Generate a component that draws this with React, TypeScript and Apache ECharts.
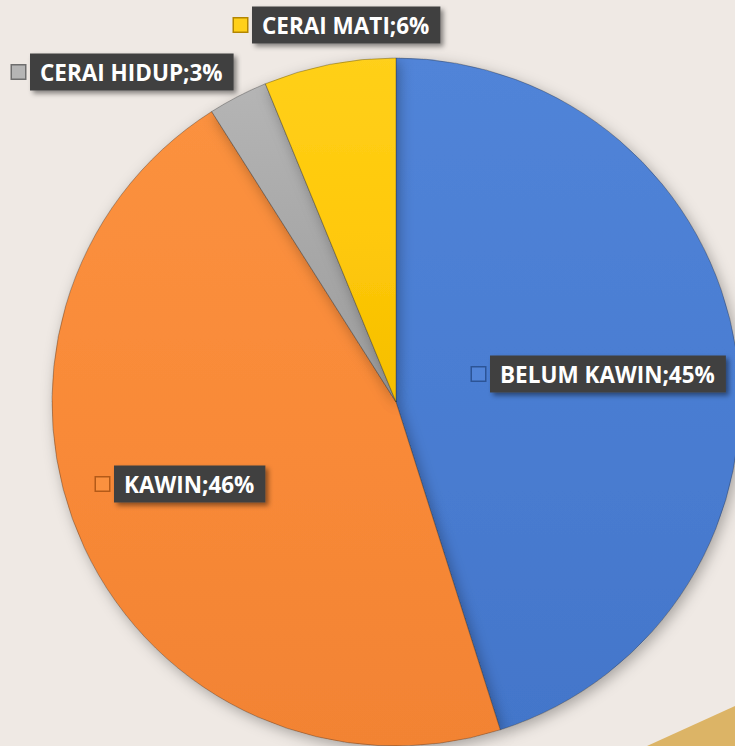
import React, { useEffect, useRef } from "react";
import * as echarts from "echarts";

const categories = ["BELUM KAWIN", "KAWIN", "CERAI HIDUP", "CERAI MATI"];
const values = [45.1, 45.9, 2.8, 6.2];
const colors = ["#4a7dd2", "#f98a38", "#a8a8a8", "#ffc90a"];
const lightColors = ["#5184d8", "#fb913f", "#b5b5b5", "#ffd01a"];
const darkColors = ["#4376ca", "#f28333", "#9c9c9c", "#f5be00"];
const keyBorders = ["#2c5496", "#b35a18", "#6e6e6e", "#b38600"];
// label anchor positions (left edge of key square, vertical middle of box)
const labelPos: [number, number][] = [
  [472, 374],
  [96, 484],
  [12, 72],
  [234, 25],
];

export default function App() {
  const ref = useRef<HTMLDivElement>(null);
  useEffect(() => {
    if (!ref.current) return;
    const chart = echarts.init(ref.current, null, { renderer: "svg" });
    const data = categories.map((name, i) => ({
      name,
      value: values[i],
      itemStyle: {
        color: new echarts.graphic.LinearGradient(0, 0, 0, 1, [
          { offset: 0, color: lightColors[i] },
          { offset: 0.5, color: colors[i] },
          { offset: 1, color: darkColors[i] },
        ]),
      },
      label: {
        rich: {
          key: {
            width: 13,
            height: 13,
            backgroundColor: lightColors[i],
            borderColor: keyBorders[i],
            borderWidth: 1.5,
          },
        },
      },
    }));
    chart.setOption({
      animation: false,
      backgroundColor: "#efe9e4",
      graphic: [
        {
          type: "polygon",
          z: -1,
          shape: { points: [[647, 746], [735, 706], [735, 746]] },
          style: { fill: "#dcb466" },
        },
      ],
      series: [
        {
          type: "pie",
          center: [396, 402],
          radius: 344,
          startAngle: 90,
          clockwise: true,
          percentPrecision: 0,
          data,
          itemStyle: {
            borderColor: "rgba(40,40,40,0.35)",
            borderWidth: 1,
            shadowBlur: 14,
            shadowColor: "rgba(0,0,0,0.3)",
            shadowOffsetX: 3,
            shadowOffsetY: 4,
          },
          emphasis: { disabled: true },
          labelLine: { show: false },
          label: {
            show: true,
            position: "inside",
            formatter: (p: any) => `{key|}{gap|}{txt|${p.name};${p.percent}%}`,
            rich: {
              gap: { width: 5, height: 15 },
              txt: {
                fontFamily: "Open Sans",
                fontWeight: "bold",
                fontSize: 22.5,
                color: "#ffffff",
                backgroundColor: "#404040",
                padding: [7, 11, 7, 10],
                lineHeight: 27,
                shadowColor: "rgba(0,0,0,0.45)",
                shadowBlur: 5,
                shadowOffsetX: 3,
                shadowOffsetY: 3,
              },
            },
          },
          labelLayout: (params: any) => {
            const pos = labelPos[params.dataIndex];
            return { x: pos[0], y: pos[1], align: "left", verticalAlign: "middle" };
          },
        },
      ],
    });
    return () => chart.dispose();
  }, []);
  return (
    <div
      ref={ref}
      style={{ position: "fixed", left: 0, top: 0, width: 735, height: 746 }}
    />
  );
}
